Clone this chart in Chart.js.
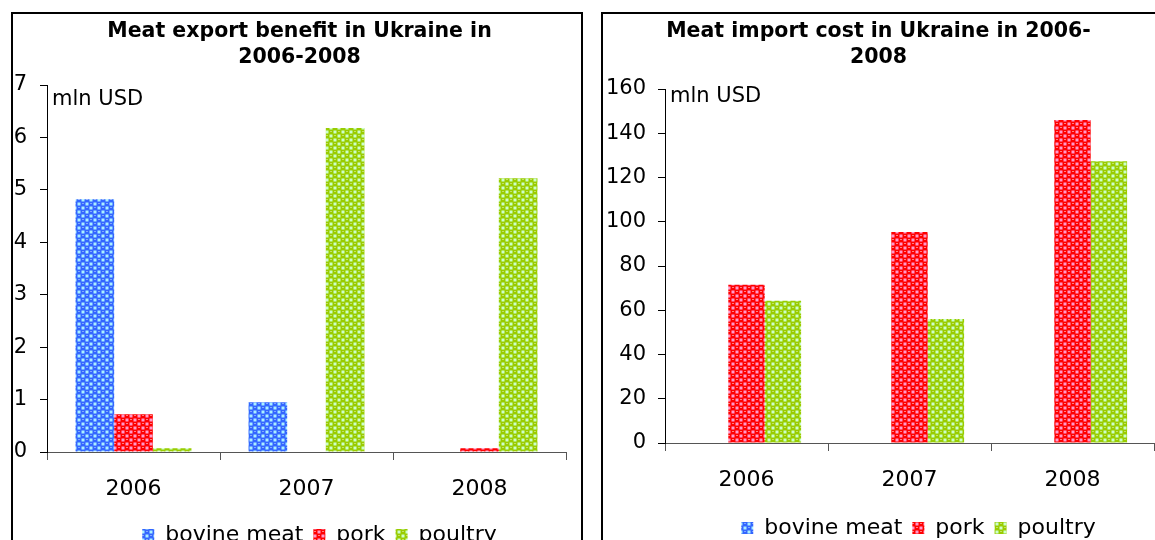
<!DOCTYPE html>
<html>
<head>
<meta charset="utf-8">
<script src="https://cdn.jsdelivr.net/npm/chart.js@4.4.0/dist/chart.umd.min.js"></script>
<style>
body { margin:0; width:1155px; height:540px; overflow:hidden; background:#fff; position:relative; }
.panel { position:absolute; top:12px; border:2px solid #000; height:600px; box-sizing:border-box; }
#leftPanel { left:11px; width:572px; }
#rightPanel { left:601px; width:620px; }
canvas { position:absolute; }
#exportChart { left:13px; top:14px; }
#importChart { left:603px; top:14px; }
</style>
</head>
<body>
<div class="panel" id="leftPanel"></div>
<div class="panel" id="rightPanel"></div>
<canvas id="exportChart" width="567" height="542"></canvas>
<canvas id="importChart" width="552" height="535"></canvas>
<script>
// data, mln USD
const years = ['2006', '2007', '2008'];
const seriesNames = ['bovine meat', 'pork', 'poultry'];

const exportBovine = [4.82, 0.95, 0];
const exportPork = [0.72, 0, 0.07];
const exportPoultry = [0.07, 6.18, 5.22];

const importBovine = [0, 0, 0];
const importPork = [71.5, 95.4, 146];
const importPoultry = [64.3, 56, 127.3];

const FONT = "'DejaVu Sans', Verdana, sans-serif";

// bubbly fill like the old excel textures
function makePattern(dark, light, shine) {
  const c = document.createElement('canvas');
  c.width = 8; c.height = 8;
  const g = c.getContext('2d');
  g.fillStyle = dark;
  g.fillRect(0, 0, 8, 8);
  g.fillStyle = light;
  g.fillRect(4.5, 0.5, 3, 3);
  g.fillRect(0.5, 4.5, 3, 3);
  g.fillStyle = shine;
  g.fillRect(1, 1, 2, 1);
  g.fillRect(5, 5, 2, 1);
  return c.getContext('2d').createPattern(c, 'repeat');
}

const blueFill = makePattern('#3366ff', '#aaf0ff', '#7fa6ff');
const redFill = makePattern('#ff0000', '#ff99cc', '#ff7f7f');
const greenFill = makePattern('#99cc00', '#ccffcc', '#c2e066');

const unitLabel = {
  id: 'unitLabel',
  afterLayout(chart, args, opts) {
    // legend and title sit a bit right of centre in the original
    const lg = chart.legend;
    if (lg && opts.legendShift) { lg.left += opts.legendShift; lg.right += opts.legendShift; }
    const tb = chart.titleBlock;
    if (tb && opts.titleShift) { tb.left += opts.titleShift; tb.right += opts.titleShift; }
  },
  afterDraw(chart, args, opts) {
    const {ctx, chartArea, scales} = chart;
    ctx.save();
    ctx.font = '21px ' + FONT;
    ctx.fillStyle = '#000';
    ctx.textBaseline = 'middle';
    ctx.textAlign = 'left';
    ctx.fillText(opts.text, chartArea.left + 5, scales.y.top + opts.dy);
    ctx.restore();
  }
};

function buildChart(id, title, data, yMax, step, cfg) {
  return new Chart(document.getElementById(id), {
    type: 'bar',
    data: {
      labels: years,
      datasets: [
        { label: seriesNames[0], data: data[0], backgroundColor: blueFill },
        { label: seriesNames[1], data: data[1], backgroundColor: redFill },
        { label: seriesNames[2], data: data[2], backgroundColor: greenFill }
      ]
    },
    options: {
      responsive: false,
      animation: false,
      devicePixelRatio: 1,
      layout: { padding: { left: 0, right: cfg.padRight, top: 0, bottom: 0 } },
      datasets: {
        bar: { categoryPercentage: 0.67, barPercentage: 1, borderWidth: 0 }
      },
      plugins: {
        title: {
          display: true,
          text: title,
          color: '#000',
          font: { family: FONT, size: 20.5, weight: 'bold', lineHeight: 26 / 20.5 },
          padding: { top: 5, bottom: cfg.titleGap }
        },
        legend: {
          position: 'bottom',
          labels: {
            boxWidth: 12,
            boxHeight: 12,
            padding: 10,
            color: '#000',
            font: { family: FONT, size: 22 }
          }
        },
        tooltip: { enabled: false },
        unitLabel: { text: 'mln USD', dy: cfg.unitDy, legendShift: cfg.legendShift, titleShift: cfg.titleShift }
      },
      scales: {
        x: {
          afterFit: (s) => { s.height = cfg.xHeight; },
          grid: { drawOnChartArea: false, drawTicks: true, tickLength: 8, color: '#555' },
          border: { display: true, color: '#555', width: 1 },
          ticks: { color: '#000', padding: 16, font: { family: FONT, size: 22 } }
        },
        y: {
          min: 0,
          max: yMax,
          afterFit: (s) => { s.width = cfg.yWidth; },
          grid: { drawOnChartArea: false, drawTicks: true, tickLength: 7, color: '#000' },
          border: { display: true, color: '#000', width: 1 },
          ticks: { stepSize: step, color: '#000', padding: cfg.yPad, font: { family: FONT, size: 21 } }
        }
      }
    },
    plugins: [unitLabel]
  });
}

buildChart('exportChart', ['Meat export benefit in Ukraine in', '2006-2008'],
  [exportBovine, exportPork, exportPoultry], 7, 1,
  { padRight: 14, titleGap: 14, xHeight: 62, yWidth: 34, yPad: 13, unitDy: 15, legendShift: 30, titleShift: 10 });

buildChart('importChart', ['Meat import cost in Ukraine in 2006-', '2008'],
  [importBovine, importPork, importPoultry], 160, 20,
  { padRight: 1, titleGap: 18, xHeight: 64, yWidth: 62, yPad: 12, unitDy: 8, legendShift: 40, titleShift: 0 });
</script>
</body>
</html>
